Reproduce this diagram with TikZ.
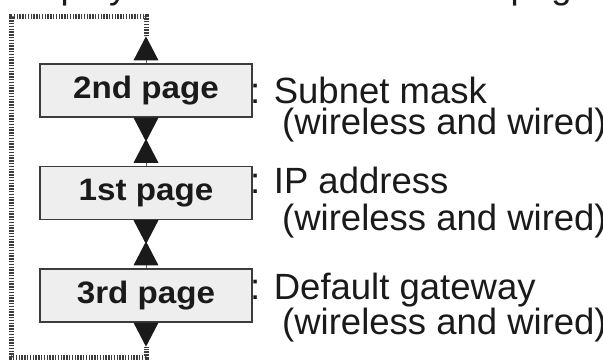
\documentclass[tikz,border=0pt]{standalone}
\usepackage{fontspec}
\setmainfont{Liberation Sans}
\newfontfamily\boxfont{Liberation Sans}[FakeStretch=1.07]
\usetikzlibrary{calc}
\definecolor{boxfill}{HTML}{EEEEEE}
\definecolor{ink}{HTML}{1A1A1A}
\definecolor{loopcol}{HTML}{3C3C3C}
\begin{document}
\begin{tikzpicture}[x=1pt,y=-1pt,
  pagebox/.style={draw=ink!85, line width=1.3pt, fill=boxfill,
    minimum width=212pt, minimum height=53pt, inner sep=0pt,
    font=\boxfont\bfseries\fontsize{31}{31}\selectfont, text=ink},
  desc/.style={anchor=base west, inner sep=0pt,
    font=\fontsize{36.5}{36.5}\selectfont, text=ink},
  tri/.style={fill=ink},
  stub/.style={draw=ink!70, line width=0.8pt},
  looppath/.style={draw=loopcol, line width=5pt, dash pattern=on 1.4pt off 1.4pt}]
\useasboundingbox (0,0) rectangle (603,362);

% partially visible heading (cut by the top edge)
\node[desc] (headl) at (7.6,-1.5) {Display};
\node[desc] (headr) at (510.5,-1.5) {page};

% page boxes
\node[pagebox] (b2) at (146,90.5) {2nd page};
\node[pagebox] (b1) at (146,193) {1st page};
\node[pagebox] (b3) at (146,295.5) {3rd page};

% descriptions
\node[desc] (d2a) at (250,103) {: Subnet mask};
\node[desc] (d2b) at (282,134.5) {(wireless and wired)};
\node[desc] (d1a) at (250,193) {: IP address};
\node[desc] (d1b) at (282,230) {(wireless and wired)};
\node[desc] (d3a) at (250,299) {: Default gateway};
\node[desc] (d3b) at (282,334) {(wireless and wired)};

% up triangles (above each box)
\foreach \b in {b2,b1,b3}{
  \draw[stub] (\b.north) -- +(0,-3.5);
  \fill[tri] (\b.north) +(-12.5,-3) -- +(12.5,-3) -- +(0,-27) -- cycle;
}
% down triangles (below each box)
\foreach \b in {b2,b1,b3}{
  \fill[tri] (\b.south) +(-12.5,0) -- +(12.5,0) -- +(0,24) -- cycle;
}

% loop back line
\coordinate (toptip) at ($(b2.north)+(0,-27)$);
\coordinate (bottip) at ($(b3.south)+(0,24)$);
\coordinate (lt) at (11,16);
\coordinate (lb) at (11,357);
\draw[looppath] (toptip) -- (toptip |- lt) -- (lt) -- (lb) -- (bottip |- lb) -- (bottip);
\end{tikzpicture}
\end{document}
